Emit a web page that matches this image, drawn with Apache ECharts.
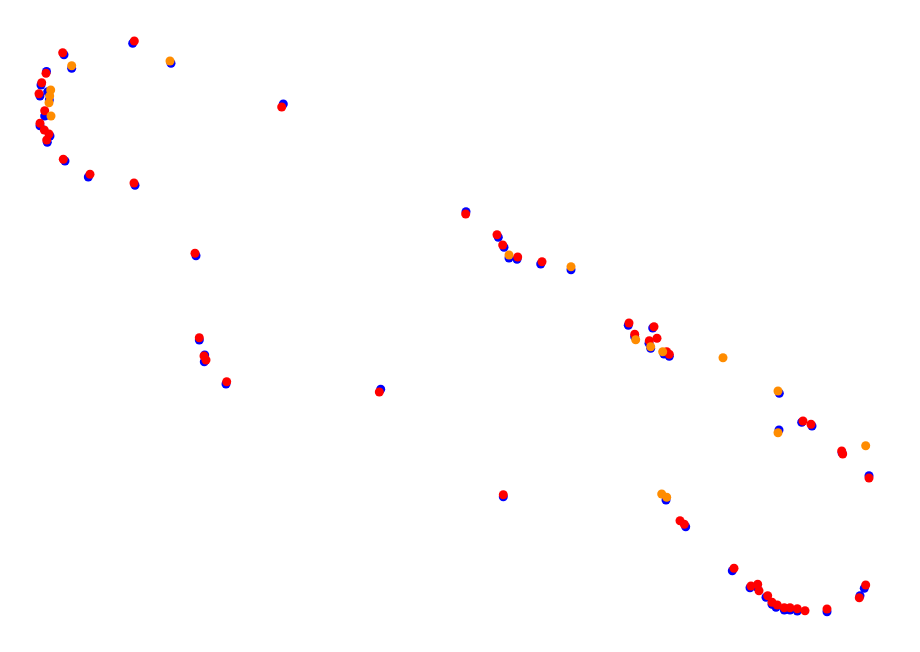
<!DOCTYPE html>
<html><head><meta charset="utf-8">
<script src="https://cdn.jsdelivr.net/npm/echarts@6/dist/echarts.min.js"></script>
<style>html,body{margin:0;padding:0;background:#fff}#c{width:920px;height:652px}</style>
</head><body><div id="c"></div>
<script>
var blueX = [132.7,64,71.7,171,46.5,41,40,49.3,47.7,44.7,40,47.3,50,65,88.3,135,283.3,466,498.3,504,509,517,540.7,571,628.3,652.7,634.7,650.7,649,664,669.3,779.3,779,801.7,812,842,869,666,685.7,732.3,750,757,766,772,776,784.3,790,797.3,827,864.3,860,196,199.3,204.7,204.3,226,380.7,503.3];
var blueY = [43.3,54.7,68.3,63.3,71.5,85,96,100,91.7,116,125.7,142.3,136,161,177,185.3,104,211.7,237.3,247.3,258,259.3,264,269.7,325.3,328,336.7,348.3,343.3,354,356.3,393.3,430,422.3,426,452.7,475.7,500,526.7,570.7,587.7,587,597.3,604.3,607.3,610,610,611,611.7,588.3,595.7,255.7,340,355,361.7,384,389.3,496.7];
var redX = [134.3,62.7,46,41.7,39,44.7,40,44.3,49,46.7,63.3,90,134,281.7,465.7,497,502.7,517.7,542,629,654,634.7,649.3,657,666.7,669.3,803,811,841.7,842.7,869,680,684.3,734,751,757.7,759,767.7,772,777.3,784.3,790,797.3,805,827,865.7,859.3,195,199.3,204,206,226.7,379.3,503.3];
var redY = [41,52.7,73.3,82.7,93.7,110.7,123.3,130,134,140,159.3,174.3,183,107,214,234.7,245,257,261.7,323,326.7,334.3,340.7,338.3,351.7,354.3,421,424.3,451,454,478,520.7,524.3,568.3,586,584.3,590.7,595.7,602.3,605,607.7,607.7,608.7,610.7,609,585,597.7,253.3,337.7,356,360,381.7,392,494.7];
var orangeX = [71.7,170,50.7,49.7,49,51,509,571,635.7,650.7,662.7,723,778,778,865.7,661.7,666.7];
var orangeY = [65.7,61,90,96,102.7,116,255,266.7,339.7,346.7,351.7,357.7,391,432.7,445.7,494,497.3];

function pts(xs, ys){ return xs.map(function(x,i){return [x, ys[i]];}); }
var chart = echarts.init(document.getElementById('c'));
chart.setOption({
  animation:false,
  backgroundColor:'#ffffff',
  grid:{left:0,right:0,top:0,bottom:0},
  xAxis:{type:'value',min:0,max:920,show:false},
  yAxis:{type:'value',min:0,max:652,inverse:true,show:false},
  series:[
    {type:'scatter',name:'blue',data:pts(blueX,blueY),symbolSize:9,itemStyle:{color:'#0000ff',opacity:1}},
    {type:'scatter',name:'red',data:pts(redX,redY),symbolSize:9,itemStyle:{color:'#ff0000',opacity:1}},
    {type:'scatter',name:'orange',data:pts(orangeX,orangeY),symbolSize:9,itemStyle:{color:'#ff8c00',opacity:1}}
  ]
});
</script></body></html>
